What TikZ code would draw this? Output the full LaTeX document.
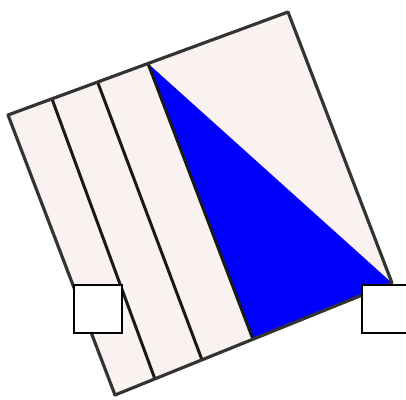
\documentclass[tikz,border=0pt]{standalone}
\usetikzlibrary{calc}
\definecolor{paper}{RGB}{249,242,240}
\tikzset{box/.style={draw=black,fill=white,line width=5pt,minimum size=4.8cm,inner sep=0pt}}
\begin{document}
\begin{tikzpicture}[x=0.1cm,y=-0.1cm]
    \useasboundingbox (0,0) rectangle (406,399);
    \clip (0,0) rectangle (406,399);
    \coordinate (tl) at (8,115);
    \coordinate (tr) at (288,12);
    \coordinate (br) at (392,283);
    \coordinate (bl) at (115,395);

    \fill[paper] (tl) -- (tr) -- (br) -- (bl) -- cycle;
    \fill[blue] ($(tl)!.5!(tr)$) -- (br) -- ($(bl)!.498!(br)$) -- cycle;

    % strips
    \foreach \a/\b in {.157/.144, .32/.314, .5/.498}
        \draw[black!90,line width=8.5pt] ($(tl)!\a!(tr)$) -- ($(bl)!\b!(br)$);
    \draw[black!80,line width=9pt,line join=round] (tl) -- (tr) -- (br) -- (bl) -- cycle;

    \node[box] (lbox) at (98,309) {};
    \node[box] (rbox) at (386,309) {};
\end{tikzpicture}
\end{document}
